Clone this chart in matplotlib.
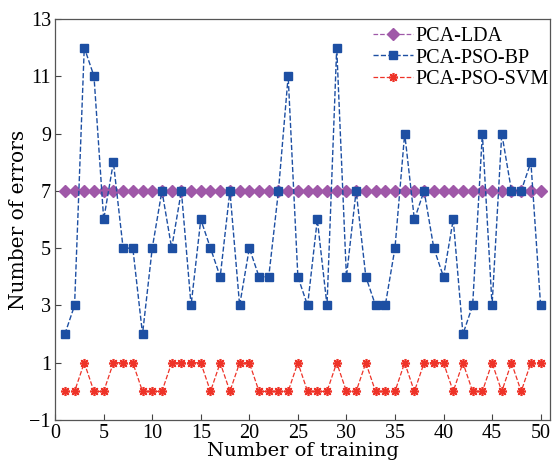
import matplotlib
matplotlib.use("Agg")
import matplotlib.pyplot as plt
import numpy as np

# training index
trials = np.arange(1, 51)

# number of errors per run
lda_err = [7] * 50
bp_err = [2, 3, 12, 11, 6, 8, 5, 5, 2, 5,
          7, 5, 7, 3, 6, 5, 4, 7, 3, 5,
          4, 4, 7, 11, 4, 3, 6, 3, 12, 4,
          7, 4, 3, 3, 5, 9, 6, 7, 5, 4,
          6, 2, 3, 9, 3, 9, 7, 7, 8, 3]
svm_err = [0, 0, 1, 0, 0, 1, 1, 1, 0, 0,
           0, 1, 1, 1, 1, 0, 1, 0, 1, 1,
           0, 0, 0, 0, 1, 0, 0, 0, 1, 0,
           0, 1, 0, 0, 0, 1, 0, 1, 1, 1,
           0, 1, 0, 0, 1, 0, 1, 0, 1, 1]

xticks = list(range(0, 51, 5))
yticks = list(range(-1, 14, 2))

plt.rcParams['font.family'] = ['Liberation Serif', 'DejaVu Serif']

fig = plt.figure(figsize=(5.57, 4.72), dpi=100)
ax = fig.add_axes([0.099, 0.11, 0.889, 0.85])

ax.plot(trials, lda_err, linestyle='--', color='#9f58a8', marker='D',
        markersize=6, linewidth=0.9, label='PCA-LDA')
ax.plot(trials, bp_err, linestyle='--', color='#1d4fa3', marker='s',
        markersize=6, linewidth=1.0, label='PCA-PSO-BP')
ax.plot(trials, svm_err, linestyle='--', color='#ee3328', marker=(8, 2, 0),
        markersize=6.5, markeredgewidth=1.2, linewidth=0.9, label='PCA-PSO-SVM')

ax.set_xlim(0, 51)
ax.set_ylim(-1, 13)
ax.set_xticks(xticks)
ax.set_yticks(yticks)
ax.set_yticklabels([str(v).replace('-', '\u2212') for v in yticks])
ax.tick_params(direction='in', length=4, labelsize=14.5, width=0.8,
               color='#444444', pad=3)
for s in ax.spines.values():
    s.set_color('#555555')
    s.set_linewidth(0.9)

ax.set_xlabel('Number of training', fontsize=14, labelpad=-1,
              family='DejaVu Serif')
ax.set_ylabel('Number of errors', fontsize=14.5, labelpad=1,
              family='DejaVu Serif')

ax.legend(loc='upper right', frameon=False, fontsize=14.5, handlelength=2.0,
          handletextpad=0.1, labelspacing=0.12, borderaxespad=0.0,
          bbox_to_anchor=(1.012, 1.0))

fig.savefig('out.png', dpi=100)
